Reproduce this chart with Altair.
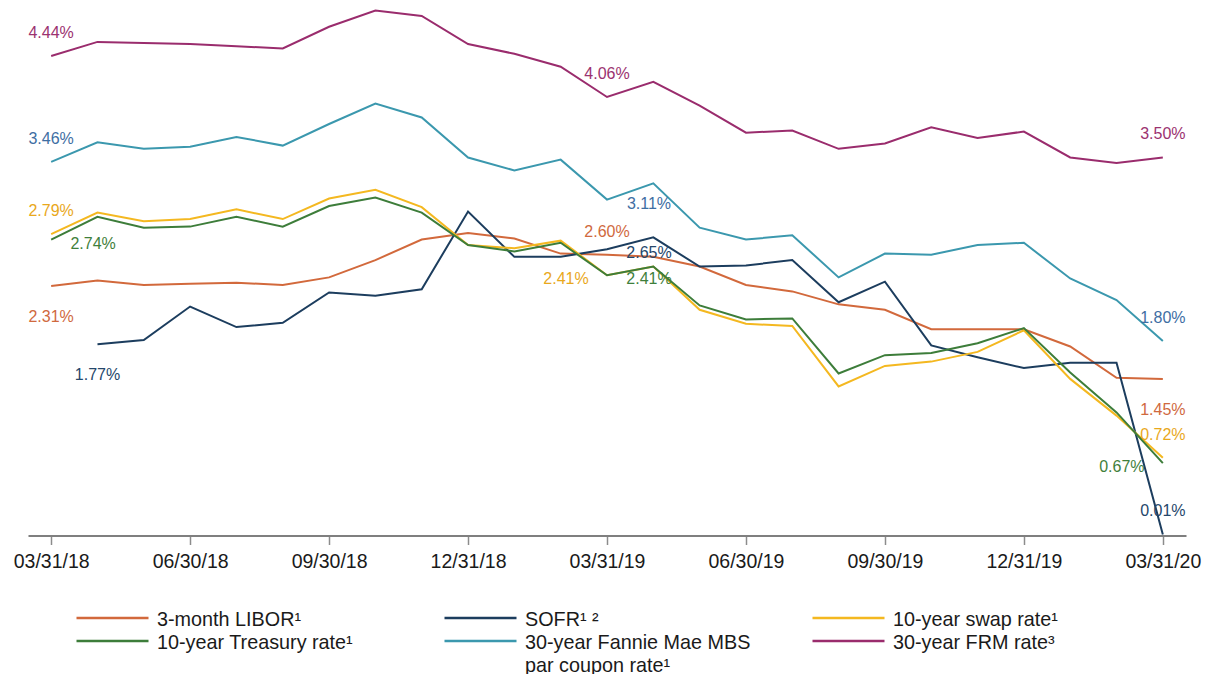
import altair as alt
import pandas as pd

dates = ["03/31/18", "04/30/18", "05/31/18", "06/30/18", "07/31/18", "08/31/18",
         "09/30/18", "10/31/18", "11/30/18", "12/31/18", "01/31/19", "02/28/19",
         "03/31/19", "04/30/19", "05/31/19", "06/30/19", "07/31/19", "08/31/19",
         "09/30/19", "10/31/19", "11/30/19", "12/31/19", "01/31/20", "02/29/20",
         "03/31/20"]
tick_dates = ["03/31/18", "06/30/18", "09/30/18", "12/31/18", "03/31/19",
              "06/30/19", "09/30/19", "12/31/19", "03/31/20"]

series_names = ["3-month LIBOR¹", "SOFR¹ ²", "10-year swap rate¹",
                "10-year Treasury rate¹", "30-year Fannie Mae MBS|par coupon rate¹",
                "30-year FRM rate³"]

libor = [2.31, 2.36, 2.32, 2.33, 2.34, 2.32, 2.39, 2.55, 2.74, 2.80, 2.75, 2.61,
         2.60, 2.58, 2.49, 2.32, 2.26, 2.14, 2.09, 1.91, 1.91, 1.91, 1.75, 1.46, 1.45]
sofr = [None, 1.77, 1.81, 2.12, 1.93, 1.97, 2.25, 2.22, 2.28, 3.00, 2.58, 2.58,
        2.65, 2.76, 2.49, 2.50, 2.55, 2.16, 2.35, 1.76, 1.65, 1.55, 1.60, 1.60, 0.01]
swap = [2.79, 2.99, 2.91, 2.93, 3.02, 2.93, 3.12, 3.20, 3.04, 2.69, 2.66, 2.73,
        2.41, 2.49, 2.09, 1.96, 1.94, 1.38, 1.57, 1.61, 1.70, 1.90, 1.45, 1.11, 0.72]
treasury = [2.74, 2.95, 2.85, 2.86, 2.95, 2.86, 3.05, 3.13, 2.99, 2.69, 2.63, 2.71,
            2.41, 2.49, 2.13, 2.00, 2.01, 1.50, 1.67, 1.69, 1.78, 1.92, 1.51, 1.14, 0.67]
fannie = [3.46, 3.64, 3.58, 3.60, 3.69, 3.61, 3.81, 4.00, 3.87, 3.50, 3.38, 3.48,
          3.11, 3.26, 2.85, 2.74, 2.78, 2.39, 2.61, 2.60, 2.69, 2.71, 2.38, 2.18, 1.80]
frm = [4.44, 4.57, 4.56, 4.55, 4.53, 4.51, 4.71, 4.86, 4.81, 4.55, 4.46, 4.34,
       4.06, 4.20, 3.98, 3.73, 3.75, 3.58, 3.63, 3.78, 3.68, 3.74, 3.50, 3.45, 3.50]

line_colors = ["#D2693C", "#1C3D5E", "#F4B820", "#3D7D3A", "#3B98AE", "#9A2C6D"]
label_colors = ["#D0693E", "#25476B", "#E9A81C", "#3F7F3C", "#3E6EA3", "#9B3270"]

# annotated points: series index, date, placement
label_series = [5, 5, 5, 4, 4, 4, 2, 2, 2, 3, 3, 3, 0, 0, 0, 1, 1, 1]
label_dates = ["03/31/18", "03/31/19", "03/31/20",
               "03/31/18", "03/31/19", "03/31/20",
               "03/31/18", "03/31/19", "03/31/20",
               "03/31/18", "03/31/19", "03/31/20",
               "03/31/18", "03/31/19", "03/31/20",
               "04/30/18", "03/31/19", "03/31/20"]
label_place = ["above", "above", "above",
               "above", "right", "above",
               "above", "left", "above",
               "right", "right", "left",
               "below", "above", "below",
               "below", "right", "above"]

all_series = [libor, sofr, swap, treasury, fannie, frm]
rows = []
for name, vals in zip(series_names, all_series):
    for d, v in zip(dates, vals):
        if v is not None:
            rows.append({"date": d, "series": name, "value": v})
df = pd.DataFrame(rows)

lab_rows = []
for si, d, p in zip(label_series, label_dates, label_place):
    v = all_series[si][dates.index(d)]
    lab_rows.append({"date": d, "series": series_names[si], "value": v, "place": p})
labels = pd.DataFrame(lab_rows)

FONT = "Liberation Sans"

x_enc = alt.X("date:O",
              scale=alt.Scale(type="point", domain=dates, padding=0.5),
              axis=alt.Axis(values=tick_dates, labelAngle=0, title=None,
                            domainColor="#7f7f7f", domainWidth=2,
                            tickColor="#8c8c8c", tickWidth=1.5, tickSize=9,
                            labelFont=FONT, labelFontSize=19.5, labelColor="#1a1a1a",
                            labelPadding=8, grid=False))
y_enc = alt.Y("value:Q", scale=alt.Scale(domain=[0, 4.884], nice=False, zero=True),
              axis=None)

legend = alt.Legend(
    title=None, orient="none", legendX=47, legendY=599,
    direction="horizontal", columns=3,
    symbolType="stroke", symbolSize=5184, symbolStrokeWidth=2.5, symbolOpacity=1,
    labelFont=FONT, labelFontSize=19.8, labelColor="#1a1a1a", labelLimit=500,
    labelOffset=7, labelBaseline="top",
    columnPadding=56, rowPadding=0, padding=0, clipHeight=22,
    labelExpr="split(datum.label, '|')",
)
# extra guide encoding (Vega-Lite's hidden legend "encoding" property)
legend_encoding = {
    "entries": {"width": {"value": 312}},
    "labels": {"dy": {"value": -8}, "lineHeight": {"value": 23}},
}

lines = alt.Chart(df).mark_line(strokeWidth=2).encode(
    x=x_enc, y=y_enc,
    color=alt.Color("series:N",
                    scale=alt.Scale(domain=series_names, range=line_colors),
                    legend=legend),
)

offsets = {"above": (0, -23), "below": (0, 31), "left": (-41, 4), "right": (42, 4)}
text_layers = []
for place, (dx, dy) in offsets.items():
    t = alt.Chart(labels).transform_filter(
        alt.datum.place == place
    ).transform_calculate(
        txt="format(datum.value, '.2f') + '%'"
    ).mark_text(dx=dx, dy=dy, font=FONT, fontSize=16, align="center",
                baseline="middle").encode(
        x=x_enc, y=y_enc, text="txt:N",
        color=alt.Color("series:N",
                        scale=alt.Scale(domain=series_names, range=label_colors),
                        legend=None),
    )
    text_layers.append(t)

chart = alt.layer(lines, *text_layers).resolve_scale(color="independent").properties(
    width=1158, height=527.5,
    autosize=alt.AutoSizeParams(type="none"),
    padding={"left": 20, "top": 0, "right": 16, "bottom": 142},
    background="white",
).configure_view(stroke=None)


def _add_legend_encoding(node):
    if isinstance(node, dict):
        if "legendX" in node and "columns" in node:
            node["encoding"] = legend_encoding
        for v in node.values():
            _add_legend_encoding(v)
    elif isinstance(node, list):
        for v in node:
            _add_legend_encoding(v)


_base_to_dict = chart.to_dict


def _to_dict(*args, **kwargs):
    d = _base_to_dict(*args, **kwargs)
    _add_legend_encoding(d)
    return d


object.__setattr__(chart, "to_dict", _to_dict)

chart.save("out.html", embed_options={"renderer": "svg", "actions": False})
